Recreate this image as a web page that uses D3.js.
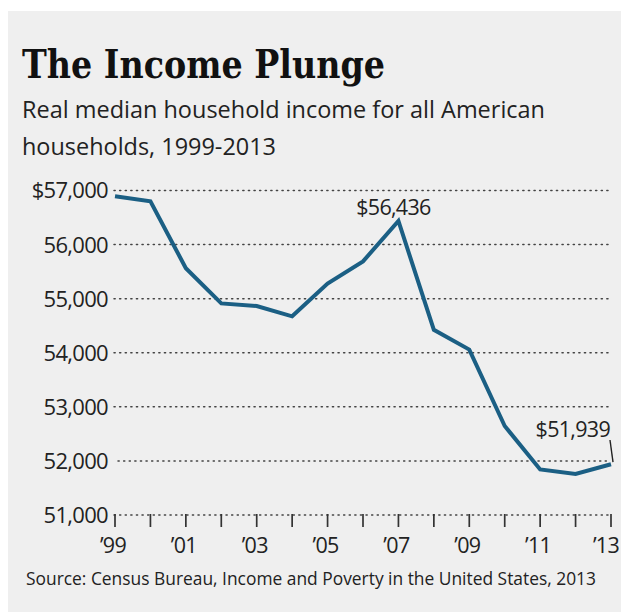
<!DOCTYPE html>
<html>
<head>
<meta charset="utf-8">
<script src="https://cdn.jsdelivr.net/npm/d3@7"></script>
<style>
  body { margin: 0; background: #fff; }
  text { fill: #222; }
</style>
</head>
<body>
<svg id="chart"></svg>
<script>
// real median household income, 2013 dollars
var years = [1999, 2000, 2001, 2002, 2003, 2004, 2005, 2006, 2007, 2008, 2009, 2010, 2011, 2012, 2013]
var income = [56895, 56800, 55562, 54913, 54865, 54674, 55278, 55689, 56436, 54423, 54059, 52646, 51842, 51759, 51939]
var yTicks = [51000, 52000, 53000, 54000, 55000, 56000, 57000]
var xLabels = [1999, 2001, 2003, 2005, 2007, 2009, 2011, 2013]
var callouts = [{year: 2007, value: 56436}, {year: 2013, value: 51939}]

var width = 621, height = 612
var sans = "'Open Sans', sans-serif"

var svg = d3.select("#chart")
    .attr("width", width)
    .attr("height", height)

svg.append("rect")
    .attr("x", 8).attr("y", 11)
    .attr("width", width - 8).attr("height", height - 11)
    .attr("fill", "#efefef")

// title + subtitle
svg.append("text")
    .attr("x", 22).attr("y", 78)
    .attr("font-family", "'DejaVu Serif', serif")
    .attr("font-weight", "bold")
    .attr("font-size", 39)
    .attr("textLength", 363)
    .attr("lengthAdjust", "spacingAndGlyphs")
    .style("fill", "#111")
    .text("The Income Plunge")

var sub = ["Real median household income for all American", "households, 1999-2013"]
svg.selectAll(".sub")
    .data(sub)
    .enter()
    .append("text")
        .attr("class", "sub")
        .attr("x", 22)
        .attr("y", function(d, i){ return 118 + i * 37 })
        .attr("font-family", sans)
        .attr("font-size", 24)
        .attr("textLength", function(d, i){ return i == 0 ? 523 : 254 })
        .attr("lengthAdjust", "spacingAndGlyphs")
        .text(function(d){ return d })

var x = d3.scaleLinear()
    .domain([1999, 2013])
    .range([115, 611])

var y = d3.scaleLinear()
    .domain([51000, 57000])
    .range([515, 190.5])

// dotted grid
svg.append("g")
    .selectAll("line")
    .data(yTicks)
    .enter()
    .append("line")
        .attr("x1", function(d){ return d == 52000 ? 118 : 114 })
        .attr("x2", 608)
        .attr("y1", function(d){ return y(d) })
        .attr("y2", function(d){ return y(d) })
        .attr("stroke", "#444")
        .attr("stroke-width", 1.5)
        .attr("stroke-dasharray", "1.2,4.4")
        .attr("stroke-linecap", "round")

svg.append("g")
    .selectAll("text")
    .data(yTicks)
    .enter()
    .append("text")
        .attr("x", 108)
        .attr("y", function(d){ return y(d) })
        .attr("dy", "0.36em")
        .attr("text-anchor", "end")
        .attr("font-family", sans)
        .attr("font-size", 22)
        .attr("letter-spacing", -0.7)
        .text(function(d){ return (d == 57000 ? "$" : "") + d3.format(",")(d) })

// x ticks
svg.append("g")
    .selectAll("line")
    .data(years)
    .enter()
    .append("line")
        .attr("x1", function(d){ return x(d) })
        .attr("x2", function(d){ return x(d) })
        .attr("y1", 514)
        .attr("y2", 527)
        .attr("stroke", "#333")
        .attr("stroke-width", 1.7)

svg.append("g")
    .selectAll("text")
    .data(xLabels)
    .enter()
    .append("text")
        .attr("x", function(d){ return x(d) - (d == 2013 ? 5 : 2) })
        .attr("y", 553)
        .attr("text-anchor", "middle")
        .attr("font-family", sans)
        .attr("font-size", 21.5)
        .attr("letter-spacing", -0.7)
        .text(function(d){ return "\u2019" + String(d).slice(2) })

// line
var line = d3.line()
    .x(function(d, i){ return x(years[i]) })
    .y(function(d){ return y(d) })

svg.append("path")
    .datum(income)
    .attr("d", line)
    .attr("fill", "none")
    .attr("stroke", "#1b5f84")
    .attr("stroke-width", 4)
    .attr("stroke-linejoin", "miter")

// callouts
var fmt = d3.format("$,")
svg.append("text")
    .attr("x", x(callouts[0].year) - 5)
    .attr("y", y(callouts[0].value) - 6)
    .attr("text-anchor", "middle")
    .attr("font-family", sans)
    .attr("font-size", 21.5)
    .attr("letter-spacing", -0.7)
    .text(fmt(callouts[0].value))

svg.append("text")
    .attr("x", 610)
    .attr("y", 437)
    .attr("text-anchor", "end")
    .attr("font-family", sans)
    .attr("font-size", 21.5)
    .attr("letter-spacing", -0.7)
    .text(fmt(callouts[1].value))

svg.append("line")
    .attr("x1", 610).attr("y1", 440)
    .attr("x2", x(callouts[1].year) + 2).attr("y2", y(callouts[1].value) - 2)
    .attr("stroke", "#222")
    .attr("stroke-width", 1.4)

// source
svg.append("text")
    .attr("x", 26).attr("y", 585)
    .attr("font-family", sans)
    .attr("font-size", 18)
    .attr("textLength", 570)
    .attr("lengthAdjust", "spacingAndGlyphs")
    .text("Source: Census Bureau, Income and Poverty in the United States, 2013")
</script>
</body>
</html>
